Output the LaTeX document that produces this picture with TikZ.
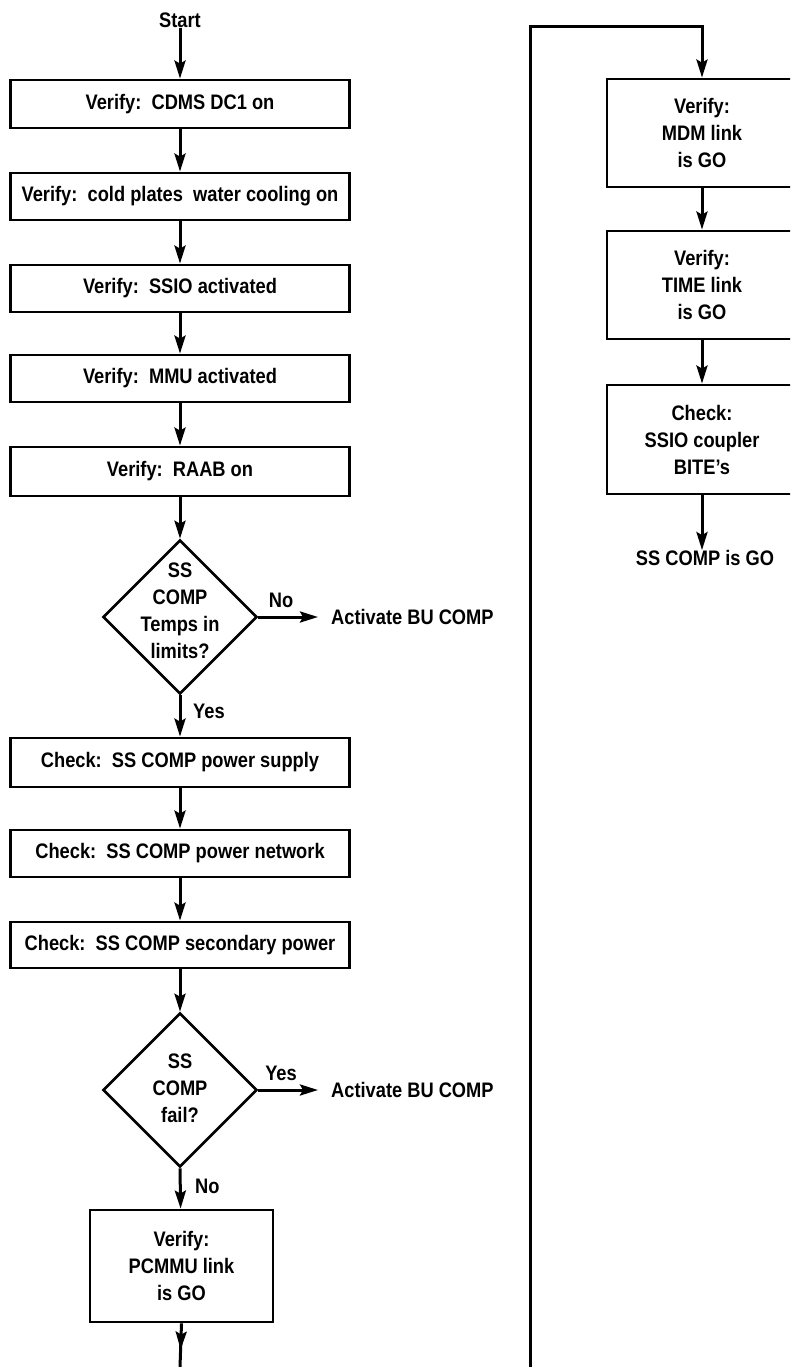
\documentclass[tikz,border=0pt]{standalone}
\usepackage{fontspec}
\setmainfont[FakeStretch=0.87]{Liberation Sans}
\usetikzlibrary{shapes.geometric,arrows.meta,decorations.markings}
\begin{document}
\begin{tikzpicture}[x=1pt,y=-1pt,
  txt/.style={font=\fontsize{21}{27}\selectfont\bfseries, inner sep=0pt, align=center},
  wbox/.style={draw, line width=2.8pt, rectangle, minimum width=339pt, inner sep=0pt, txt},
  tbox/.style={draw, line width=2.8pt, rectangle, inner sep=0pt, txt},
  dia/.style={draw, line width=2.6pt, diamond, minimum width=154pt, minimum height=154pt, inner sep=0pt},
  arr/.style={line width=3pt, -{Stealth[length=18pt,width=11pt,inset=3pt]}},
  ln/.style={line width=3pt},
  lbl/.style={txt}
]
\useasboundingbox (0,0) rectangle (790,1367);
\clip (0,0) rectangle (790,1367);

% left column
\node[txt] (start) at (180,20) {Start};
\node[wbox, minimum height=48pt] (b1) at (180,104) {Verify:~~CDMS DC1 on};
\node[wbox, minimum height=47pt] (b2) at (180,196.5) {Verify:~~cold plates~~water cooling on};
\node[wbox, minimum height=47pt] (b3) at (180,288.5) {Verify:~~SSIO activated};
\node[wbox, minimum height=47pt] (b4) at (180,378.5) {Verify:~~MMU activated};
\node[wbox, minimum height=49pt] (b5) at (180,471.5) {Verify:~~RAAB on};
\node[dia] (d1) at (180,617) {};
\node[txt] (d1t) at (180,611) {SS\\COMP\\Temps in\\limits?};
\node[txt, anchor=west] (act1) at (331,617) {Activate BU COMP};
\node[lbl] (no1) at (281,600) {No};
\node[lbl, anchor=west] (yes1) at (193,711) {Yes};
\node[wbox, minimum height=49pt] (b6) at (180,762.5) {Check:~~SS COMP power supply};
\node[wbox, minimum height=47pt] (b7) at (180,853.5) {Check:~~SS COMP power network};
\node[wbox, minimum height=46pt] (b8) at (180,945) {Check:~~SS COMP secondary power};
\node[dia] (d2) at (180,1090) {};
\node[txt] (d2t) at (180,1088) {SS\\COMP\\fail?};
\node[txt, anchor=west] (act2) at (331,1090) {Activate BU COMP};
\node[lbl] (yes2) at (281,1073) {Yes};
\node[lbl, anchor=west] (no2) at (195,1186) {No};
\node[tbox, minimum width=183pt, minimum height=112pt] (b9) at (181.5,1266) {Verify:\\PCMMU link\\is GO};
\coordinate (bot) at (180,1367);

\draw[arr] (start) -- (b1);
\draw[arr] (b1) -- (b2);
\draw[arr] (b2) -- (b3);
\draw[arr] (b3) -- (b4);
\draw[arr] (b4) -- (b5);
\draw[arr] (b5) -- (d1.north);
\draw[arr] (d1.east) -- (act1.west -| 318,0);
\draw[arr] (d1.south) -- (b6);
\draw[arr] (b6) -- (b7);
\draw[arr] (b7) -- (b8);
\draw[arr] (b8) -- (d2.north);
\draw[arr] (d2.east) -- (act2.west -| 318,0);
\draw[arr] (d2.south) -- (b9);
\draw[ln, postaction={decorate}, decoration={markings, mark=at position 0.6 with {\arrow[line width=3pt]{Stealth[length=18pt,width=11pt,inset=3pt]}}}] (b9.south) -- (bot);

% right column
\coordinate (lb) at (530,1367);
\coordinate (rt) at (702,27);
\node[tbox, minimum width=190pt, minimum height=108pt] (r1) at (702,133) {Verify:\\MDM link\\is GO};
\node[tbox, minimum width=190pt, minimum height=108pt] (r2) at (702,285) {Verify:\\TIME link\\is GO};
\node[tbox, minimum width=190pt, minimum height=109pt] (r3) at (702,439.5) {Check:\\SSIO coupler\\BITE’s};
\node[txt] (go) at (705,558) {SS COMP is GO};

\draw[arr] (lb) |- (rt) -- (r1);
\draw[arr] (r1) -- (r2);
\draw[arr] (r2) -- (r3);
\draw[arr] (r3.south) -- (r3.south |- go.north);
\end{tikzpicture}
\end{document}
